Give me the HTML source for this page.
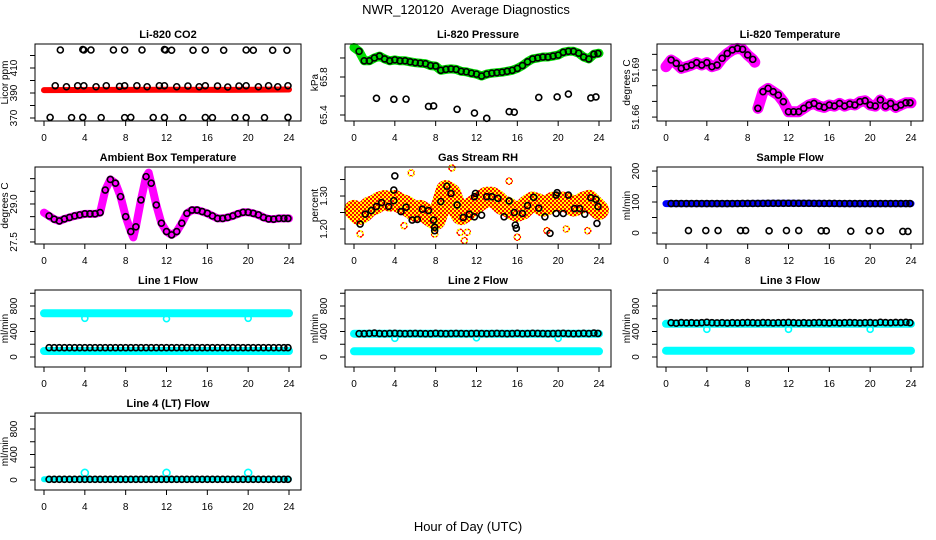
<!DOCTYPE html>
<html><head><meta charset="utf-8">
<style>
html,body{margin:0;padding:0;background:#fff;}
svg{display:block;font-family:"Liberation Sans",sans-serif;}
</style></head>
<body>
<svg id="chart" width="936" height="540" viewBox="0 0 936 540">
<defs>
<pattern id="checker" width="4" height="4" patternUnits="userSpaceOnUse">
<rect width="4" height="4" fill="#ffff00"/><rect width="2" height="2" fill="#ff0000"/><rect x="2" y="2" width="2" height="2" fill="#ff0000"/>
</pattern>
</defs>
<text x="466" y="14" text-anchor="middle" font-size="13">NWR_120120 &#160;Average Diagnostics</text>
<text x="468" y="531" text-anchor="middle" font-size="13">Hour of Day (UTC)</text>
</svg>
<script>
// ---- shared ----
const xTicks = [0,4,8,12,16,20,24];
const halfHours = [0.5,1,1.5,2,2.5,3,3.5,4,4.5,5,5.5,6,6.5,7,7.5,8,8.5,9,9.5,10,10.5,11,11.5,12,12.5,13,13.5,14,14.5,15,15.5,16,16.5,17,17.5,18,18.5,19,19.5,20,20.5,21,21.5,22,22.5,23,23.5,23.9];
const bandHours = [0,0.5,1,1.5,2,2.5,3,3.5,4,4.5,5,5.5,6,6.5,7,7.5,8,8.5,9,9.5,10,10.5,11,11.5,12,12.5,13,13.5,14,14.5,15,15.5,16,16.5,17,17.5,18,18.5,19,19.5,20,20.5,21,21.5,22,22.5,23,23.5,24];
const outlierHours = [2.2,3.9,5.1,7.3,7.8,10.1,11.8,13.0,15.2,15.7,18.1,19.9,21.0,23.2,23.7];

// ---- CO2 ----
const co2BandHours = [0,6,12,18,24];
const co2Band = [392.3,392.5,392.6,392.5,392.8];
const co2MeanHours = [1.1,2.2,3.3,3.9,5.1,6.1,7.4,7.9,9.1,10.1,11.3,11.8,13.0,14.1,15.2,15.8,17.0,18.0,19.1,19.8,21.0,22.0,22.9,23.9];
const co2Mean = [395.8,395,395.8,395.8,395,395.8,395.3,395.8,395.8,395,395.8,395.8,395,395.6,395,395.8,395.6,394.8,395.6,395.8,395,395.8,395,395.8];
const co2HighHours = [1.6,3.8,3.9,4.6,6.8,7.9,9.6,11.8,11.9,12.5,14.6,15.8,17.6,19.8,20.5,22.4,23.8];
const co2High = [424.4,424.8,424.4,424.4,424.4,424.4,424.4,424.8,424.4,424.2,424.2,424.4,424.2,424.4,424.2,424.2,424.2];
const co2LowHours = [0.6,2.7,3.8,5.6,7.9,8.5,10.7,11.8,13.6,15.8,16.5,18.7,19.8,21.6,23.9];
const co2Low = [370.5,370.3,370.5,370.3,370.3,370.5,370.4,370.4,370.3,370.4,370.3,370.3,370.3,370.3,370.5];

// ---- Pressure ----
const presBand = [66.11,66.07,65.97,65.97,66.0,66.02,65.99,65.97,65.98,65.97,65.97,65.96,65.95,65.945,65.94,65.92,65.915,65.87,65.88,65.885,65.88,65.86,65.855,65.84,65.83,65.81,65.83,65.84,65.845,65.85,65.86,65.87,65.89,65.92,65.96,65.99,66.0,66.01,66.01,66.02,66.03,66.06,66.07,66.07,66.05,66.01,65.99,66.04,66.05];
const presOut = [65.576,65.565,65.567,65.49,65.495,65.46,65.42,65.365,65.435,65.43,65.585,65.59,65.62,65.58,65.59];

// ---- Li-820 Temperature ----
const tempBandHours1 = [0,0.5,1,1.5,2,2.5,3,3.5,4,4.5,5,5.5,6,6.5,7,7.5,8,8.5,8.7];
const tempBand1 = [51.6921,51.6964,51.6943,51.6911,51.6921,51.6932,51.6947,51.6932,51.6947,51.6921,51.6932,51.6975,51.7006,51.7028,51.7038,51.7032,51.6996,51.6968,51.6950];
const tempBandHours2 = [9,9.5,10,10.5,11,11.5,12,12.5,13,13.5,14,14.5,15,15.5,16,16.5,17,17.5,18,18.5,19,19.5,20,20.5,21,21.5,22,22.5,23,23.5,24];
const tempBand2 = [51.6656,51.6762,51.6783,51.6762,51.674,51.6698,51.6634,51.6634,51.6634,51.6656,51.6677,51.6687,51.667,51.6662,51.6677,51.667,51.6687,51.667,51.6683,51.6677,51.6698,51.6704,51.6677,51.667,51.6709,51.667,51.6687,51.6662,51.6677,51.6691,51.6691];

// ---- Ambient Box Temperature ----
const ambBandHours = [0,0.5,1,1.5,2,2.5,3,3.5,4,4.5,5,5.5,6,6.5,7,7.5,8,8.5,8.75,9,9.5,10,10.25,10.5,11,11.5,12,12.5,13,13.5,14,14.5,15,15.5,16,16.5,17,17.5,18,18.5,19,19.5,20,20.5,21,21.5,22,22.5,23,23.5,24];
const ambBand = [28.66,28.53,28.40,28.33,28.41,28.47,28.53,28.57,28.61,28.61,28.61,28.66,29.55,29.97,29.82,29.29,28.50,27.91,27.68,28.10,29.16,30.08,30.24,29.82,28.96,28.24,27.91,27.78,27.91,28.24,28.63,28.76,28.76,28.70,28.63,28.53,28.43,28.43,28.47,28.53,28.61,28.67,28.67,28.63,28.57,28.47,28.41,28.40,28.43,28.43,28.43];

// ---- Gas Stream RH ----
const rhBand = [1.258,1.242,1.252,1.268,1.273,1.283,1.288,1.283,1.288,1.278,1.273,1.263,1.252,1.258,1.248,1.237,1.227,1.268,1.318,1.308,1.268,1.242,1.252,1.268,1.278,1.288,1.298,1.298,1.288,1.273,1.268,1.258,1.252,1.258,1.273,1.283,1.278,1.268,1.273,1.283,1.283,1.283,1.278,1.268,1.273,1.283,1.288,1.273,1.258];
const rhMeanHours = [0.6,1.1,1.7,2.2,2.7,3.4,3.9,3.9,4.0,4.6,5.1,5.7,6.2,6.7,7.3,7.8,7.9,7.9,8.5,9.1,9.5,10.1,10.7,11.3,11.8,11.8,11.9,12.5,13.0,13.5,14.1,14.7,15.2,15.7,15.8,15.9,16.5,17.0,17.6,18.1,18.7,19.2,19.8,19.8,19.9,20.5,21.0,21.6,22.1,22.6,23.2,23.7,23.8,23.9];
const rhMean = [1.215,1.245,1.256,1.268,1.280,1.268,1.286,1.318,1.361,1.253,1.266,1.227,1.229,1.260,1.256,1.227,1.205,1.195,1.283,1.330,1.308,1.273,1.235,1.245,1.237,1.298,1.308,1.242,1.298,1.298,1.293,1.237,1.285,1.250,1.212,1.202,1.247,1.271,1.296,1.263,1.237,1.187,1.247,1.303,1.310,1.247,1.303,1.262,1.262,1.245,1.295,1.290,1.217,1.268];
const rhStrayHours = [0.6,5.6,7.9,10.4,10.8,11.1,16.0,18.9,20.8,22.9,9.6,15.2,4.9];
const rhStray = [1.185,1.37,1.185,1.19,1.165,1.19,1.175,1.195,1.20,1.195,1.385,1.345,1.21];

// ---- Sample Flow ----
const sampleBandHours = [0,6,12,18,24];
const sampleBand = [95,95,96,95,95];
const sampleOut = [8,8,8,8,8,7,8,8,7,7,6,7,7,5,5];

// ---- Line flows ----
const l1Upper = [686,686,686,686,686,686,686,686,686,686,686,686,686];
const l1Lower = [94,94,94,94,94,94,94,94,94,94,94,94,94];
const flowBandHours = [0,2,4,6,8,10,12,14,16,18,20,22,24];
const l1DipHours = [4,12,20];
const l1Dip = [607,600,607];
const l1Black = [146,146,146,146,146,146,146,146,146,146,146,146,146,146,146,146,146,146,146,146,146,146,146,146,146,146,146,146,146,146,146,146,146,146,146,146,146,146,146,146,146,146,146,146,146,146,146,146];
const l2Upper = [365,365,365,365,365,365,365,365,365,365,365,365,365];
const l2Lower = [89,89,89,89,89,89,89,89,89,89,89,89,89];
const l2Dip = [293,300,293];
const l2Black = [365,365,370,375,368,365,370,372,368,365,368,370,368,365,365,372,368,365,368,370,368,365,368,370,368,365,368,370,368,365,368,372,365,368,372,370,368,365,368,370,372,368,365,368,372,368,375,370];
const l3Upper = [520,520,520,520,520,520,520,520,520,520,520,520,520];
const l3Lower = [99,99,99,99,99,99,99,99,99,99,99,99,99];
const l3Dip = [434,434,434];
const l3Black = [538,530,540,535,538,532,538,545,538,535,538,532,538,535,538,540,538,535,540,538,535,538,538,542,538,535,538,535,538,540,538,535,540,535,538,540,538,535,538,540,535,545,540,538,542,540,545,538];
const l4Upper = [12,12,12,12,12,12,12,12,12,12,12,12,12];
const l4Spike = [112,112,112];
const l4Black = [10,10,10,10,10,10,10,10,10,10,10,10,10,10,10,10,10,10,10,10,10,10,10,10,10,10,10,10,10,10,10,10,10,10,10,10,10,10,10,10,10,10,10,10,10,10,10,10];

// ---- layout ----
const NS = 'http://www.w3.org/2000/svg';
const svg = document.getElementById('chart');
const colLeft = [35,345,657], rowTop = [44,167,290,413], boxW = 266, boxH = 77;
function mk(parent, tag, attrs){ const e=document.createElementNS(NS,tag); for(const k in attrs) e.setAttribute(k,attrs[k]); parent.appendChild(e); return e; }

function makePanel(name, title, col, row, ymin, ymax, yTicks, yLabels, yTitle){
  const g = mk(svg,'g',{});
  
  
  const L = colLeft[col], T = rowTop[row];
  const sx = t => L + 9 + t/24*245;
  const sy = v => T + boxH - (v - ymin)/(ymax - ymin)*boxH;
  const plot = mk(g,'g',{});
  
  
  const box = mk(g,'rect',{x:L,y:T,width:boxW,height:boxH,fill:'none',stroke:'#000','stroke-width':1});
  
  
  const tt = mk(g,'text',{x:L+boxW/2,y:T-6,'text-anchor':'middle','font-size':11,'font-weight':'bold'});
  tt.textContent = title;
  
  
  const xa = mk(g,'g',{});
  
  
  mk(xa,'line',{x1:sx(xTicks[0]),x2:sx(xTicks[xTicks.length-1]),y1:T+boxH,y2:T+boxH,stroke:'#000'});
  xTicks.forEach(t=>{
    mk(xa,'line',{x1:sx(t),x2:sx(t),y1:T+boxH,y2:T+boxH+5,stroke:'#000'});
    const lb = mk(xa,'text',{x:sx(t),y:T+boxH+20,'text-anchor':'middle','font-size':10});
    lb.textContent = t;
    
    
  });
  const ya = mk(g,'g',{});
  
  
  yTicks.forEach((v,i)=>{
    mk(ya,'line',{x1:L-5,x2:L,y1:sy(v),y2:sy(v),stroke:'#000'});
    if(yLabels[i]!==''){
      const lb = mk(ya,'text',{x:0,y:0,'text-anchor':'middle','font-size':10,transform:`translate(${L-18},${sy(v)}) rotate(-90)`});
      lb.textContent = yLabels[i];
      
      
    }
  });
  const yt = mk(g,'text',{x:0,y:0,'text-anchor':'middle','font-size':10,transform:`translate(${L-27},${T+boxH/2}) rotate(-90)`});
  yt.textContent = yTitle;
  
  
  return {plot, sx, sy};
}
function band(p, hours, vals, color, w, nm){
  const pts = hours.map((t,i)=>p.sx(t).toFixed(1)+','+p.sy(vals[i]).toFixed(1)).join(' ');
  const pl = mk(p.plot,'polyline',{points:pts,fill:'none',stroke:color,'stroke-width':w,'stroke-linejoin':'round','stroke-linecap':'round'});
  
  
}
function dots(p, hours, vals, color, r, nm){
  const g = mk(p.plot,'g',{});
  
  
  hours.forEach((t,i)=>{ mk(g,'circle',{cx:p.sx(t),cy:p.sy(vals[i]),r:r,fill:'none',stroke:color,'stroke-width':1.6}); });
}
function sampleAt(hours, vals, t){
  for(let i=0;i<hours.length-1;i++){ if(t>=hours[i]&&t<=hours[i+1]){ const f=(t-hours[i])/(hours[i+1]-hours[i]); return vals[i]+f*(vals[i+1]-vals[i]); } }
  return vals[vals.length-1];
}

// CO2
let p = makePanel('co2-panel','Li-820 CO2',0,0,367.6,429.2,[370,380,390,400,410,420],['370','','390','','410',''],'Licor ppm');
band(p, co2BandHours, co2Band, '#ff0000', 6, 'co2-band');
dots(p, co2MeanHours, co2Mean, '#000', 3, 'co2-means');
dots(p, co2HighHours, co2High, '#000', 3, 'co2-high-outliers');
dots(p, co2LowHours, co2Low, '#000', 3, 'co2-low-outliers');

// Pressure
p = makePanel('pressure-panel','Li-820 Pressure',1,0,65.337,66.147,[65.4,65.6,65.8,66.0],['65.4','','65.8',''],'kPa');
band(p, bandHours, presBand, '#00dd00', 9, 'pressure-band');
dots(p, halfHours, halfHours.map(t=>sampleAt(bandHours,presBand,t)), '#000', 3, 'pressure-means');
dots(p, outlierHours, presOut, '#000', 3, 'pressure-outliers');

// Li-820 temperature
p = makePanel('temperature-panel','Li-820 Temperature',2,0,51.6575,51.7066,[51.66,51.67,51.68,51.69,51.70],['51.66','','','51.69',''],'degrees C');
band(p, tempBandHours1, tempBand1, '#ff00ff', 11, 'temperature-band-am');
band(p, tempBandHours2, tempBand2, '#ff00ff', 11, 'temperature-band-pm');
dots(p, halfHours.filter(t=>t<=8.7), halfHours.filter(t=>t<=8.7).map(t=>sampleAt(tempBandHours1,tempBand1,t)), '#000', 3, 'temperature-means-am');
dots(p, halfHours.filter(t=>t>=9), halfHours.filter(t=>t>=9).map(t=>sampleAt(tempBandHours2,tempBand2,t)), '#000', 3, 'temperature-means-pm');

// Ambient
p = makePanel('ambient-panel','Ambient Box Temperature',0,1,27.42,30.46,[27.5,28,28.5,29,29.5,30],['27.5','','','29.0','',''],'degrees C');
band(p, ambBandHours, ambBand, '#ff00ff', 8, 'ambient-band');
dots(p, halfHours, halfHours.map(t=>sampleAt(ambBandHours,ambBand,t)), '#000', 3, 'ambient-means');

// RH
p = makePanel('rh-panel','Gas Stream RH',1,1,1.1545,1.388,[1.20,1.25,1.30,1.35],['1.20','','1.30',''],'percent');
band(p, bandHours, rhBand, 'url(#checker)', 20, 'rh-band');
dots(p, rhStrayHours, rhStray, 'url(#checker)', 3, 'rh-stray-points');
dots(p, rhMeanHours, rhMean, '#000', 3, 'rh-means');

// Sample flow
p = makePanel('sample-flow-panel','Sample Flow',2,1,-35.5,213,[0,50,100,150,200],['0','','100','','200'],'ml/min');
band(p, sampleBandHours, sampleBand, '#0000ff', 7, 'sample-band');
dots(p, halfHours, halfHours.map(t=>sampleAt(sampleBandHours,sampleBand,t)), '#000', 3, 'sample-means');
dots(p, outlierHours, sampleOut, '#000', 3, 'sample-outliers');

const fT = [0,200,400,600,800,1000], fL = ['0','','400','','800',''];
// Line 1
p = makePanel('line1-panel','Line 1 Flow',0,2,-157,1051,fT,fL,'ml/min');
band(p, flowBandHours, l1Upper, '#00ffff', 8, 'line1-upper-band');
band(p, flowBandHours, l1Lower, '#00ffff', 8, 'line1-lower-band');
dots(p, l1DipHours, l1Dip, '#00ffff', 3, 'line1-dips');
dots(p, halfHours, l1Black, '#000', 3, 'line1-means');
// Line 2
p = makePanel('line2-panel','Line 2 Flow',1,2,-157,1051,fT,fL,'ml/min');
band(p, flowBandHours, l2Upper, '#00ffff', 8, 'line2-upper-band');
band(p, flowBandHours, l2Lower, '#00ffff', 8, 'line2-lower-band');
dots(p, l1DipHours, l2Dip, '#00ffff', 3, 'line2-dips');
dots(p, halfHours, l2Black, '#000', 3, 'line2-means');
// Line 3
p = makePanel('line3-panel','Line 3 Flow',2,2,-157,1051,fT,fL,'ml/min');
band(p, flowBandHours, l3Upper, '#00ffff', 8, 'line3-upper-band');
band(p, flowBandHours, l3Lower, '#00ffff', 8, 'line3-lower-band');
dots(p, l1DipHours, l3Dip, '#00ffff', 3, 'line3-dips');
dots(p, halfHours, l3Black, '#000', 3, 'line3-means');
// Line 4
p = makePanel('line4-panel','Line 4 (LT) Flow',0,3,-157,1051,fT,fL,'ml/min');
band(p, flowBandHours, l4Upper, '#00ffff', 6, 'line4-band');
dots(p, l1DipHours, l4Spike, '#00ffff', 3.5, 'line4-spikes');
dots(p, halfHours, l4Black, '#000', 3, 'line4-means');
</script>
</body></html>
